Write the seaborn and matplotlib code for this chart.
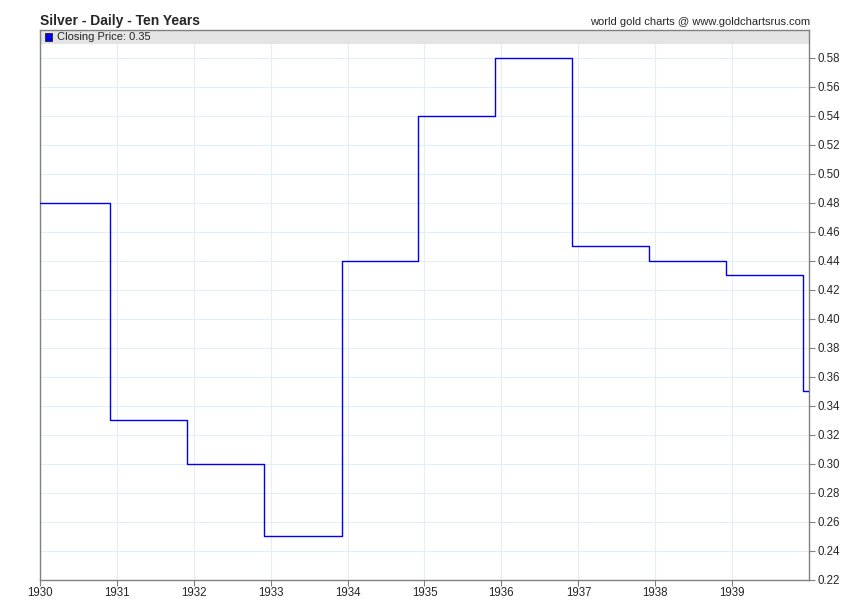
import pandas as pd
import matplotlib
matplotlib.use('Agg')
import matplotlib.pyplot as plt
import matplotlib.dates as mdates
from matplotlib.patches import Rectangle
import seaborn as sns

# Annual silver closing price steps (USD/oz)
change_dates = ['1930-01-01', '1930-12-01', '1931-12-01', '1932-12-01', '1933-12-03',
                '1934-12-02', '1935-12-02', '1936-12-01', '1937-12-02', '1938-12-02',
                '1939-12-02', '1939-12-31']
prices = [0.48, 0.33, 0.30, 0.25, 0.44, 0.54, 0.58, 0.45, 0.44, 0.43, 0.35, 0.35]
year_ticks = list(range(1930, 1940))
last_price = 0.35

sns.set_style('white')
plt.rcParams['font.family'] = ['Liberation Sans', 'DejaVu Sans']

df = pd.DataFrame({'Date': pd.to_datetime(change_dates), 'Price': prices})

fig = plt.figure(figsize=(8.5, 6.16), dpi=100)
ax = fig.add_axes([40 / 850, 36 / 616, 769 / 850, 550 / 616])

sns.lineplot(data=df, x='Date', y='Price', ax=ax, color='#0000ee',
             linewidth=1.0, drawstyle='steps-post', zorder=3)

ax.set_xlim(pd.Timestamp('1930-01-01'), pd.Timestamp('1940-01-01'))
ax.set_ylim(0.22, 0.599)

ax.set_xticks([pd.Timestamp(f'{y}-01-01') for y in year_ticks])
ax.xaxis.set_major_formatter(mdates.DateFormatter('%Y'))
ax.set_yticks([0.22 + 0.02 * i for i in range(19)])
ax.yaxis.set_major_formatter(matplotlib.ticker.FormatStrFormatter('%.2f'))
ax.yaxis.tick_right()
ax.tick_params(axis='both', which='major', labelsize=8.3, length=4, width=0.8,
               color='#808080', direction='out', pad=1)
ax.tick_params(axis='y', right=True, left=False, pad=2)
ax.tick_params(axis='x', bottom=True)

ax.grid(True, color='#e3eef8', linewidth=0.8, zorder=0)
ax.set_axisbelow(True)
for side in ['left', 'right', 'bottom', 'top']:
    ax.spines[side].set_visible(True)
    ax.spines[side].set_color('#808080')
    ax.spines[side].set_linewidth(1.0)

ax.set_xlabel('')
ax.set_ylabel('')

# legend strip at the top of the plot area
strip_h = 14 / 550
ax.add_patch(Rectangle((0, 1 - strip_h), 1, strip_h, transform=ax.transAxes,
                       facecolor='#e2e2e2', edgecolor='none', alpha=0.9, zorder=1))
ax.add_patch(Rectangle((5 / 769, 1 - 11 / 550), 7 / 769, 8 / 550, transform=ax.transAxes,
                       facecolor='#0000ee', edgecolor='#222222', linewidth=0.6, zorder=4))
ax.text(17 / 769, 1 - 7 / 550, f'Closing Price: {last_price:.2f}', transform=ax.transAxes,
        fontsize=8, va='center', ha='left', zorder=4)

fig.text(40 / 850, 1 - 21 / 616, 'Silver - Daily - Ten Years', fontsize=10,
         fontweight='bold', va='center', ha='left')
fig.text(810 / 850, 1 - 22 / 616, 'world gold charts @ www.goldchartsrus.com',
         fontsize=8, va='center', ha='right')

fig.savefig('out.png', dpi=100)
